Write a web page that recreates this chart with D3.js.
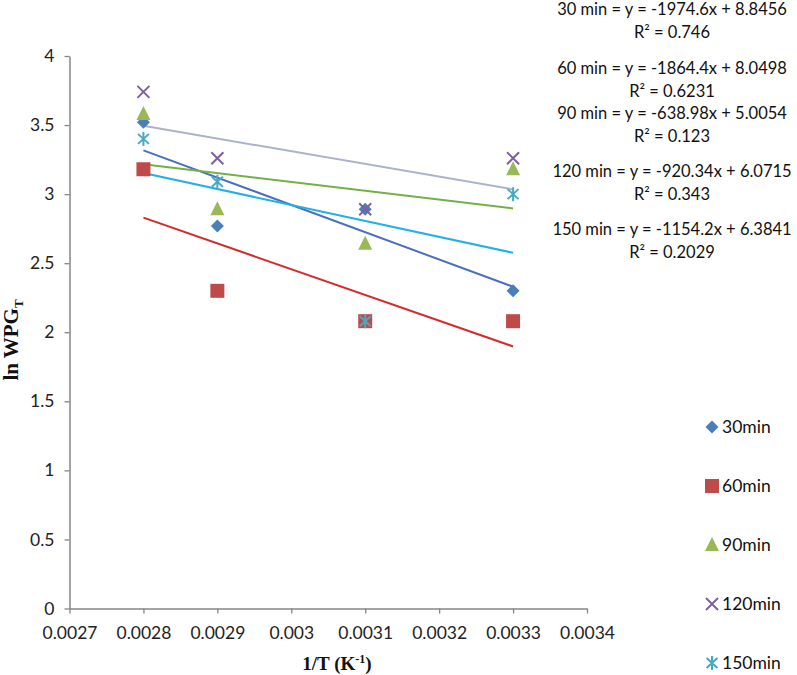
<!DOCTYPE html>
<html>
<head>
<meta charset="utf-8">
<script src="https://cdn.jsdelivr.net/npm/d3@7"></script>
<style>
  body { margin: 0; background: #fff; }
  svg { display: block; }
</style>
</head>
<body>
<div id="chart"></div>
<script>
// Data
var xValues = [0.0028, 0.0029, 0.0031, 0.0033];
var seriesNames = ["30min", "60min", "90min", "120min", "150min"];
var eqNames = ["30 min", "60 min", "90 min", "120 min", "150 min"];

var values30 = [3.52, 2.77, 2.89, 2.30];
var values60 = [3.18, 2.30, 2.08, 2.08];
var values90 = [3.58, 2.89, 2.64, 3.18];
var values120 = [3.74, 3.26, 2.89, 3.26];
var values150 = [3.40, 3.09, 2.08, 3.00];

var slopes = [-1974.6, -1864.4, -638.98, -920.34, -1154.2];
var intercepts = [8.8456, 8.0498, 5.0054, 6.0715, 6.3841];
var slopeLabels = ["-1974.6", "-1864.4", "-638.98", "-920.34", "-1154.2"];
var interceptLabels = ["8.8456", "8.0498", "5.0054", "6.0715", "6.3841"];
var r2Labels = ["0.746", "0.6231", "0.123", "0.343", "0.2029"];

var xTicks = [0.0027, 0.0028, 0.0029, 0.003, 0.0031, 0.0032, 0.0033, 0.0034];
var yTicks = [0, 0.5, 1, 1.5, 2, 2.5, 3, 3.5, 4];

var allValues = [values30, values60, values90, values120, values150];

// Styles
var markerColors = ["#4a7ebb", "#be4b48", "#98b954", "#7d60a0", "#46aac5"];
var lineColors = ["#4a6fbf", "#d42a2a", "#74b046", "#a9b3cb", "#22b0e6"];
var markerTypes = ["diamond", "square", "triangle", "x", "star"];

var width = 797,
    height = 675;

var svg = d3.select("#chart")
    .append("svg")
    .attr("width", width)
    .attr("height", height);

var x = d3.scaleLinear().domain([0.0027, 0.0034]).range([69.5, 587]);
var y = d3.scaleLinear().domain([0, 4]).range([608.5, 56]);

var tickFont = "Lato, 'Open Sans', sans-serif";

// Axes
var xAxis = svg.append("g")
    .attr("transform", "translate(0," + y(0) + ")")
    .call(d3.axisBottom(x).tickValues(xTicks).tickSize(5).tickSizeOuter(0)
        .tickFormat(function(d) { return String(+d.toFixed(4)); }));

var yAxis = svg.append("g")
    .attr("transform", "translate(" + x(0.0027) + ",0)")
    .call(d3.axisLeft(y).tickValues(yTicks).tickSize(5).tickSizeOuter(0)
        .tickFormat(function(d) { return String(d); }));

[xAxis, yAxis].forEach(function(ax) {
    ax.select(".domain").attr("stroke", "#868686").attr("stroke-width", 1.5);
    ax.selectAll(".tick line").attr("stroke", "#868686").attr("stroke-width", 1.3);
    ax.selectAll(".tick text")
        .attr("fill", "#222")
        .attr("font-family", tickFont)
        .attr("font-size", "17.5px");
});
xAxis.selectAll(".tick text").attr("y", 18);
yAxis.selectAll(".tick text").attr("x", -15);

// Axis titles
var xTitle = svg.append("text")
    .attr("x", 337)
    .attr("y", 670)
    .attr("text-anchor", "middle")
    .attr("font-family", "'Liberation Serif', 'Times New Roman', serif")
    .attr("font-weight", "bold")
    .attr("font-size", "19px")
    .attr("fill", "#111");
xTitle.append("tspan").text("1/T (K");
xTitle.append("tspan").attr("dy", -7).attr("font-size", "12px").text("-1");
xTitle.append("tspan").attr("dy", 7).text(")");

var yTitle = svg.append("text")
    .attr("transform", "translate(18,340) rotate(-90)")
    .attr("text-anchor", "middle")
    .attr("font-family", "'Liberation Serif', 'Times New Roman', serif")
    .attr("font-weight", "bold")
    .attr("font-size", "21px")
    .attr("fill", "#111");
yTitle.append("tspan").text("ln WPG");
yTitle.append("tspan").attr("dy", 5).attr("font-size", "13px").text("T");

// Marker shapes
function markerPath(type) {
    if (type === "diamond") return "M0,-6.5L6.5,0L0,6.5L-6.5,0Z";
    if (type === "square") return "M-7,-7H7V7H-7Z";
    if (type === "triangle") return "M0,-8L7,6H-7Z";
    if (type === "x") return "M-6,-6L6,6M6,-6L-6,6";
    return "M-5.5,-5L5.5,5M5.5,-5L-5.5,5M0,-7V7";
}
function isStroked(type) { return type === "x" || type === "star"; }

// Trendlines
var trend = svg.append("g");
slopes.forEach(function(m, i) {
    var x0 = d3.min(xValues), x1 = d3.max(xValues);
    trend.append("line")
        .attr("x1", x(x0))
        .attr("y1", y(intercepts[i] + m * x0))
        .attr("x2", x(x1))
        .attr("y2", y(intercepts[i] + m * x1))
        .attr("stroke", lineColors[i])
        .attr("stroke-width", 2);
});

// Points
allValues.forEach(function(vals, i) {
    var t = markerTypes[i];
    svg.append("g").selectAll("path")
        .data(vals)
        .enter().append("path")
        .attr("transform", function(d, j) { return "translate(" + x(xValues[j]) + "," + y(d) + ")"; })
        .attr("d", markerPath(t))
        .attr("fill", isStroked(t) ? "none" : markerColors[i])
        .attr("stroke", isStroked(t) ? markerColors[i] : "none")
        .attr("stroke-width", 2);
});

// Trendline equations
var eqY = [15, 74, 119, 177, 235];
var eqGroup = svg.append("g")
    .attr("font-family", tickFont)
    .attr("font-size", "16.5px")
    .attr("fill", "#111")
    .attr("text-anchor", "middle");
eqNames.forEach(function(n, i) {
    eqGroup.append("text")
        .attr("x", 672)
        .attr("y", eqY[i])
        .text(n + " = y = " + slopeLabels[i] + "x + " + interceptLabels[i]);
    eqGroup.append("text")
        .attr("x", 672)
        .attr("y", eqY[i] + 23)
        .text("R\u00b2 = " + r2Labels[i]);
});

// Legend
var legend = svg.append("g");
seriesNames.forEach(function(n, i) {
    var ly = 427 + i * 59;
    var t = markerTypes[i];
    legend.append("path")
        .attr("transform", "translate(712," + ly + ")")
        .attr("d", markerPath(t))
        .attr("fill", isStroked(t) ? "none" : markerColors[i])
        .attr("stroke", isStroked(t) ? markerColors[i] : "none")
        .attr("stroke-width", 2);
    legend.append("text")
        .attr("x", 722)
        .attr("y", ly + 6)
        .attr("font-family", tickFont)
        .attr("font-size", "17.5px")
        .attr("fill", "#111")
        .text(n);
});
</script>
</body>
</html>
